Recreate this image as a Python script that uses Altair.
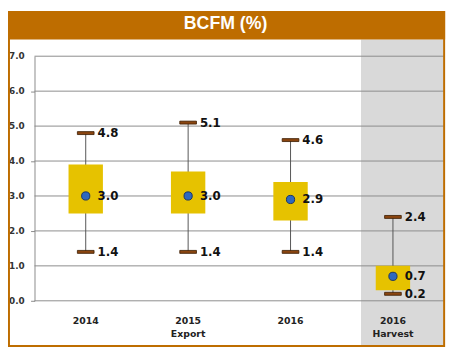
import altair as alt
import pandas as pd

categories = ["2014", "2015|Export", "2016", "2016|Harvest"]
mins = [1.4, 1.4, 1.4, 0.2]
q1 = [2.5, 2.5, 2.3, 0.3]
means = [3.0, 3.0, 2.9, 0.7]
q3 = [3.9, 3.7, 3.4, 1.0]
maxs = [4.8, 5.1, 4.6, 2.4]
y_ticks = [0, 1, 2, 3, 4, 5, 6, 7]
highlight = ["2016|Harvest"]
title_text = "BCFM (%)"

W, H = 417, 249
ORANGE = "#BE6D00"

df = pd.DataFrame({"cat": categories, "min": mins, "q1": q1, "mean": means,
                   "q3": q3, "max": maxs})
caps = pd.DataFrame({"cat": categories * 2, "v": mins + maxs})
grid = pd.DataFrame({"v": y_ticks})
band = pd.DataFrame({"cat": highlight})
dummy = pd.DataFrame({"t": [title_text]})

xscale = alt.Scale(domain=categories, paddingInner=0, paddingOuter=0)
yscale = alt.Scale(domain=[0, 7], nice=False)

xaxis = alt.Axis(title=None, labelExpr="split(datum.label, '|')",
                 labelAngle=0, labelAlign="center", domain=False, ticks=False,
                 labelFont="DejaVu Sans", labelFontWeight="bold",
                 labelFontSize=9.5, labelColor="#222",
                 labelPadding=15, labelLineHeight=13,
                 labelBaseline="top", labelOverlap=False, zindex=1)
yaxis = alt.Axis(title=None, values=y_ticks, grid=False, labels=False,
                 domainColor="#8a8a8a", tickColor="#8a8a8a", tickSize=4,
                 zindex=1)

gray = alt.Chart(band).mark_bar(width=85, xOffset=10, color="#D9D9D9").encode(
    x=alt.X("cat:N", scale=xscale, sort=categories),
    y=alt.value(-17), y2=alt.value(H + 46))

titlebar = alt.Chart(dummy).mark_rect(color=ORANGE).encode(
    x=alt.value(-27), x2=alt.value(W + 1), y=alt.value(-46), y2=alt.value(-17))

titletxt = alt.Chart(dummy).mark_text(font="Liberation Sans", fontWeight="bold",
                                      fontSize=18, color="white", align="center",
                                      baseline="middle").encode(
    x=alt.value(194.5), y=alt.value(-33), text="t:N")

frame = alt.Chart(dummy).mark_rect(fillOpacity=0, stroke=ORANGE, strokeWidth=2).encode(
    x=alt.value(-26), x2=alt.value(W), y=alt.value(-45), y2=alt.value(H + 46))

gridlines = alt.Chart(grid).mark_rule(color="#8c8c8c", strokeWidth=1).encode(
    y=alt.Y("v:Q", scale=yscale), x=alt.value(0), x2=alt.value(W))

ylabels = alt.Chart(grid).mark_text(align="right", baseline="middle",
                                    font="DejaVu Sans", fontWeight="bold",
                                    fontSize=9, color="#333").encode(
    y=alt.Y("v:Q", scale=yscale), x=alt.value(-10),
    text=alt.Text("v:Q", format=".1f"))

whisk = alt.Chart(df).mark_rule(color="#555555", strokeWidth=1).encode(
    x=alt.X("cat:N", scale=xscale, sort=categories, axis=xaxis),
    y=alt.Y("min:Q", scale=yscale, axis=yaxis), y2="max:Q")

boxes = alt.Chart(df).mark_bar(width=35, color="#E6C200", opacity=1).encode(
    x=alt.X("cat:N", scale=xscale, sort=categories),
    y=alt.Y("q1:Q", scale=yscale), y2="q3:Q")

capm = alt.Chart(caps).mark_tick(size=17, thickness=3, color="#8A4510",
                                 stroke="#3b1c00", strokeWidth=0.8,
                                 opacity=1).encode(
    x=alt.X("cat:N", scale=xscale, sort=categories),
    y=alt.Y("v:Q", scale=yscale))

caplab = alt.Chart(caps).mark_text(align="left", baseline="middle", dx=12,
                                   font="DejaVu Sans", fontWeight="bold",
                                   fontSize=12, color="#111").encode(
    x=alt.X("cat:N", scale=xscale, sort=categories),
    y=alt.Y("v:Q", scale=yscale), text=alt.Text("v:Q", format=".1f"))

dots = alt.Chart(df).mark_point(filled=True, size=70, color="#2E68BE",
                                stroke="#1c3560", strokeWidth=1, opacity=1).encode(
    x=alt.X("cat:N", scale=xscale, sort=categories),
    y=alt.Y("mean:Q", scale=yscale))

meanlab = alt.Chart(df).mark_text(align="left", baseline="middle", dx=12,
                                  font="DejaVu Sans", fontWeight="bold",
                                  fontSize=12, color="#111").encode(
    x=alt.X("cat:N", scale=xscale, sort=categories),
    y=alt.Y("mean:Q", scale=yscale), text=alt.Text("mean:Q", format=".1f"))

chart = alt.layer(gray, titlebar, gridlines, ylabels, whisk, boxes, capm, caplab,
                  dots, meanlab, titletxt, frame).properties(
    width=W, height=H, autosize="none",
    padding={"left": 27, "top": 46, "right": 8, "bottom": 47},
    background="white"
).configure_view(stroke=None)

chart.save("out.html", embed_options={"renderer": "svg", "actions": False})
